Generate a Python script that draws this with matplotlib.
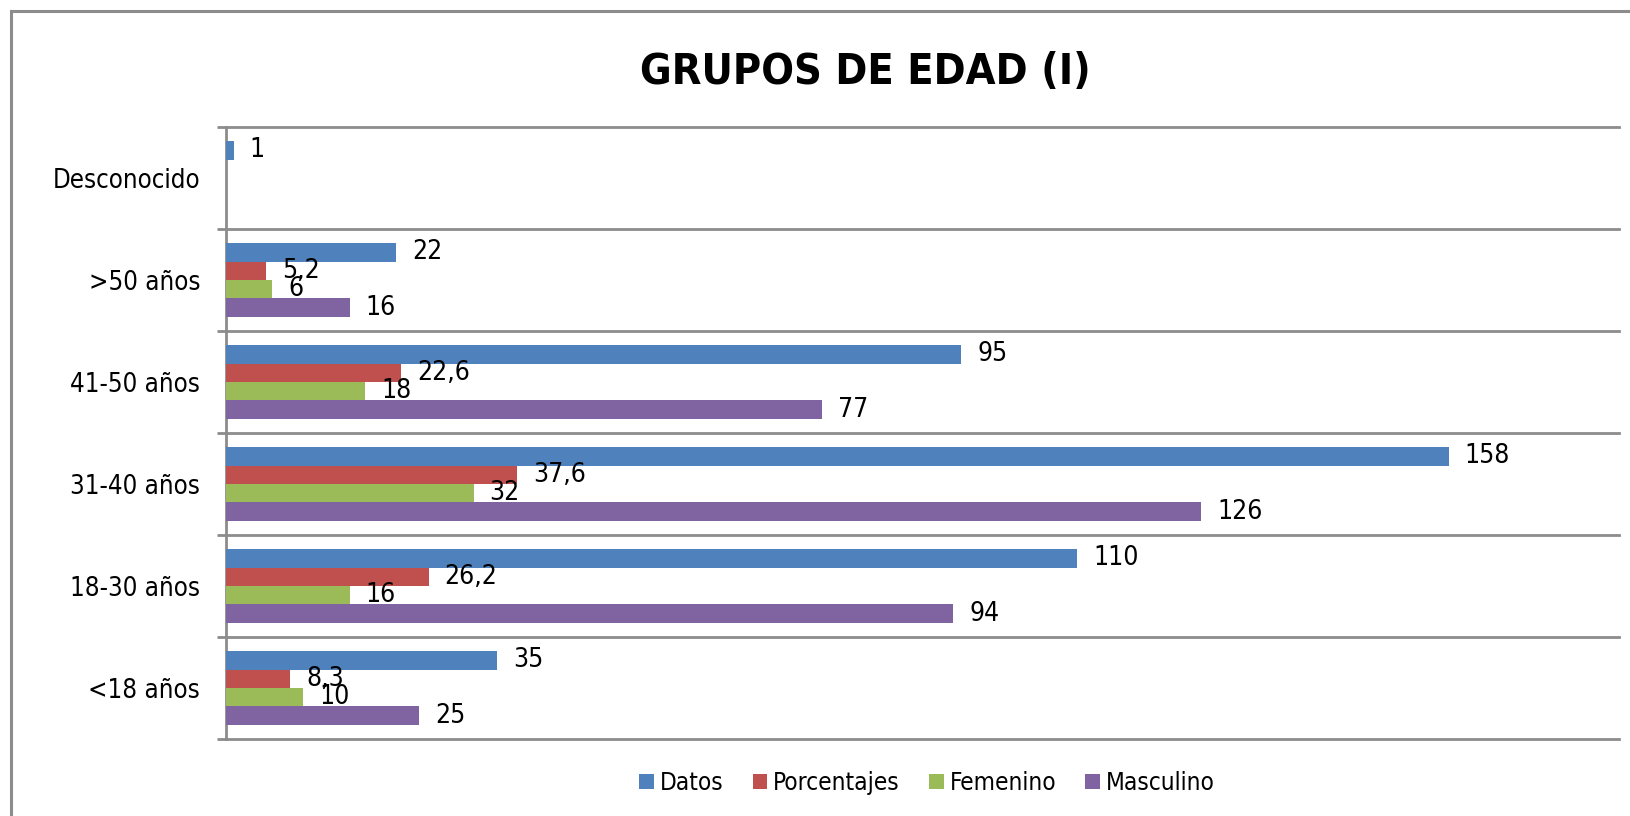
import matplotlib
matplotlib.use("Agg")
import matplotlib.pyplot as plt
from matplotlib.patches import Rectangle, Patch
from matplotlib import font_manager as fm
import numpy as np

categories = ["<18 años", "18-30 años", "31-40 años", "41-50 años", ">50 años", "Desconocido"]
series_names = ["Datos", "Porcentajes", "Femenino", "Masculino"]
datos = [35, 110, 158, 95, 22, 1]
porcentajes = [8.3, 26.2, 37.6, 22.6, 5.2, None]
femenino = [10, 16, 32, 18, 6, None]
masculino = [25, 94, 126, 77, 16, None]
colors = ["#4F81BD", "#C0504D", "#9BBB59", "#8064A2"]
title = "GRUPOS DE EDAD (I)"

# look for a narrow / condensed sans font
def find_font(bold):
    prefs = ["Liberation Sans Narrow", "DejaVu Sans", "Open Sans", "Roboto", "Noto Sans", "Lato", "Inter"]
    cands = []
    for f in fm.fontManager.ttflist:
        st = str(f.stretch).lower()
        nm = f.name
        fn = f.fname.lower()
        narrow = ("narrow" in nm.lower() or "condensed" in nm.lower() or "condensed" in st
                  or "condensed" in fn or "narrow" in fn)
        if not narrow or "extra" in st or "ultra" in st or "extracondensed" in fn:
            continue
        if "italic" in fn or f.style != "normal":
            continue
        w = f.weight if isinstance(f.weight, int) else (700 if "bold" in str(f.weight) else 400)
        if bold and w < 600:
            continue
        if not bold and w not in (400, "normal", "regular"):
            continue
        rank = next((i for i, p in enumerate(prefs) if nm.startswith(p)), 99)
        semi = 1 if "semi" in st or "semi" in fn else 0
        cands.append((rank, semi, f.fname))
    if cands:
        cands.sort()
        return fm.FontProperties(fname=cands[0][2]), True
    return fm.FontProperties(family="Liberation Sans", weight="bold" if bold else "normal"), False

fp_reg, narrow_found = find_font(False)
fp_bold, _ = find_font(True)

if narrow_found:
    s_lab, s_tick, s_title, s_leg = 19, 18.5, 31, 17.5
else:
    s_lab, s_tick, s_title, s_leg = 18, 18, 28, 16

W, H = 1630, 816
fig = plt.figure(figsize=(W / 100, H / 100), dpi=100)
ax = fig.add_axes([226 / W, 1 - 739 / H, (1619 - 226) / W, (739 - 127) / H])

# outer chart border
fig.patches.append(Rectangle((11 / W, -0.05), 1.1, 1 - 11 / H + 0.05, transform=fig.transFigure,
                             fill=False, edgecolor="#8c8c8c", linewidth=2.2, zorder=0))

y = np.arange(len(categories))
bh = 0.18
offsets = [0.27, 0.09, -0.09, -0.27]
all_series = [datos, porcentajes, femenino, masculino]

def fmt(v):
    if float(v).is_integer():
        return str(int(v))
    return f"{v:.1f}".replace(".", ",")

for vals, off, col, name in zip(all_series, offsets, colors, series_names):
    yy = [yi + off for yi, v in zip(y, vals) if v is not None]
    vv = [v for v in vals if v is not None]
    ax.barh(yy, vv, height=bh, color=col, edgecolor="none", label=name, zorder=3)
    for yi, v in zip(yy, vv):
        ax.annotate(fmt(v), xy=(v, yi), xytext=(11.5, 0), textcoords="offset points",
                    va="center", ha="left", fontproperties=fp_reg, fontsize=s_lab,
                    color="black", zorder=4)

ax.set_xlim(0, 180)
ax.set_ylim(-0.5, len(categories) - 0.5)
ax.set_yticks(y)
ax.set_yticklabels(categories)
for t in ax.get_yticklabels():
    t.set_fontproperties(fp_reg)
    t.set_fontsize(s_tick)
ax.tick_params(axis="y", which="major", length=0, pad=18.7)
ax.set_yticks(np.arange(-0.5, len(categories)), minor=True)
ax.tick_params(axis="y", which="minor", length=6.5, width=2, color="#8c8c8c")
ax.grid(axis="y", which="minor", color="#8c8c8c", linewidth=2, zorder=1)
for tk in ax.yaxis.get_minor_ticks():
    tk.gridline.set_clip_on(False)
ax.set_xticks([])
for s in ["top", "right", "bottom"]:
    ax.spines[s].set_visible(False)
ax.spines["left"].set_color("#8c8c8c")
ax.spines["left"].set_linewidth(2)

fig.text(865 / W, 1 - 72 / H, title, ha="center", va="center", fontproperties=fp_bold,
         fontsize=s_title)

leg_fp = fp_reg.copy()
leg_fp.set_size(s_leg)
handles = [Patch(facecolor=c, edgecolor="none") for c in colors]
fig.legend(handles, series_names, loc="center", bbox_to_anchor=(927 / W, 1 - 783 / H), ncol=4,
           frameon=False, prop=leg_fp, handlelength=0.6, handleheight=0.6, handletextpad=0.25,
           columnspacing=1.2)

fig.savefig("out.png", dpi=100)
